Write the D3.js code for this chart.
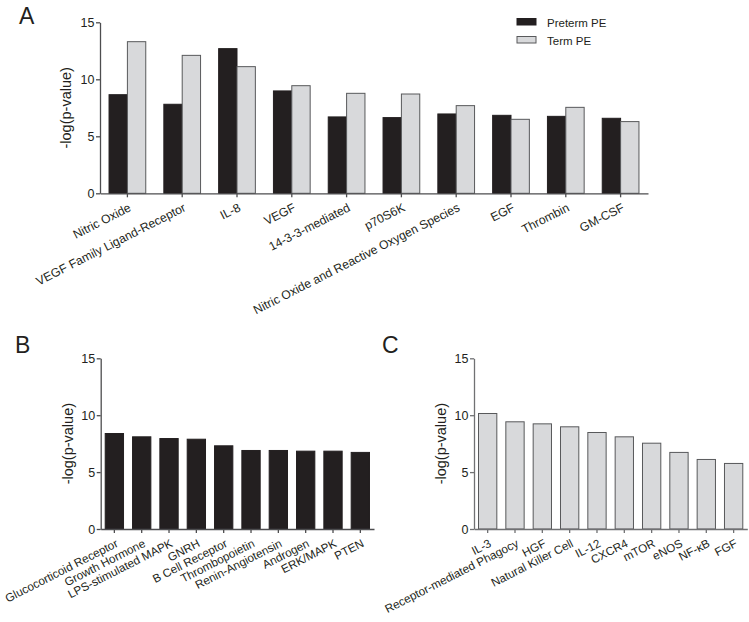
<!DOCTYPE html>
<html><head><meta charset="utf-8">
<script src="https://cdn.jsdelivr.net/npm/d3@7"></script>
<style>
body{margin:0;background:#fff;}
text{font-family:"Liberation Sans",Arial,Helvetica,sans-serif;fill:#231f20;}
</style></head>
<body>
<svg id="chart" width="749" height="622"></svg>
<script>
// Panel A data
const catsA = ["Nitric Oxide","VEGF Family Ligand-Receptor","IL-8","VEGF","14-3-3-mediated","p70S6K","Nitric Oxide and Reactive Oxygen Species","EGF","Thrombin","GM-CSF"];
const seriesA = ["Preterm PE","Term PE"];
const pretermA = [8.65,7.81,12.69,8.98,6.70,6.64,6.96,6.84,6.75,6.58];
const termA = [13.3,12.1,11.11,9.44,8.77,8.71,7.69,6.49,7.54,6.29];
// Panel B data
const catsB = ["Glucocorticoid Receptor","Growth Hormone","LPS-stimulated MAPK","GNRH","B Cell Receptor","Thrombopoietin","Renin-Angiotensin","Androgen","ERK/MAPK","PTEN"];
const valsB = [8.39,8.10,7.95,7.89,7.31,6.90,6.90,6.84,6.84,6.73];
// Panel C data
const catsC = ["IL-3","Receptor-mediated Phagocy","HGF","Natural Killer Cell","IL-12","CXCR4","mTOR","eNOS","NF-\u03baB","FGF"];
const valsC = [10.15,9.42,9.24,8.98,8.48,8.10,7.54,6.73,6.11,5.76];
const yTicks = [0,5,10,15];
const yLabel = "-log(p-value)";

const svg = d3.select("#chart");
const BLACK = "#231f20", GRAY = "#d8d9db", GSTROKE = "#58595b";

function drawAxes(g, y, x, x0, x1, y0, y1, cats, labelX, axColor, labFont) {
  const ya = d3.axisLeft(y).tickValues(yTicks).tickSize(4).tickPadding(1.5).tickSizeOuter(0);
  const gy = g.append("g").attr("transform", `translate(${x0},0)`).call(ya);
  gy.select(".domain").attr("stroke", axColor).attr("stroke-width", 1.3);
  gy.selectAll(".tick line").attr("stroke", axColor).attr("stroke-width", 1.3);
  gy.selectAll(".tick text").attr("font-size", 12.5).attr("fill", BLACK).style("font-family","Liberation Sans, Arial, sans-serif");
  const xa = d3.axisBottom(x).tickSize(4).tickSizeOuter(0).tickFormat("");
  const gx = g.append("g").attr("transform", `translate(0,${y0})`).call(xa);
  gx.select(".domain").attr("stroke", axColor).attr("stroke-width", 1.3);
  gx.selectAll(".tick line").attr("stroke", axColor).attr("stroke-width", 1.3);
  g.append("g").selectAll("text").data(cats).join("text")
    .attr("transform", d => `translate(${x(d) + x.bandwidth()/2 + 4.5},${y0 + 17}) rotate(-27)`)
    .attr("text-anchor", "end")
    .attr("font-size", labFont)
    .text(d => d);
  g.append("text")
    .attr("transform", `translate(${labelX},${(y0 + y1)/2}) rotate(-90)`)
    .attr("text-anchor", "middle")
    .attr("dy", "0.35em")
    .attr("font-size", 14.5)
    .text(yLabel);
}

// ---------- Panel A ----------
{
  const y0 = 193.3, y1 = 22.3, xl = 100, xr = 648;
  const y = d3.scaleLinear().domain([0,15]).range([y0, y1]);
  const x = d3.scaleBand().domain(catsA).range([xl, xr]).paddingInner(0.33).paddingOuter(0.165);
  const xs = d3.scaleBand().domain(seriesA).range([0, x.bandwidth()]);
  const xc = d3.scaleBand().domain(catsA).range([xl, xr]);
  const g = svg.append("g");
  const rows = catsA.map((c,i) => ({c, vals:[{s:seriesA[0], v:pretermA[i]},{s:seriesA[1], v:termA[i]}]}));
  g.selectAll("g.grp").data(rows).join("g")
    .attr("transform", d => `translate(${x(d.c)},0)`)
    .selectAll("rect").data(d => d.vals).join("rect")
      .attr("x", d => xs(d.s)).attr("width", xs.bandwidth())
      .attr("y", d => y(d.v)).attr("height", d => y0 - y(d.v))
      .attr("fill", d => d.s === seriesA[0] ? BLACK : GRAY)
      .attr("stroke", d => d.s === seriesA[0] ? BLACK : GSTROKE)
      .attr("stroke-width", 1);
  drawAxes(g, y, xc, xl, xr, y0, y1, catsA, 66, "#4d4d4f", 12.2);
  svg.append("text").attr("x", 19).attr("y", 23.5).attr("font-size", 23).text("A");
  const lg = svg.append("g");
  seriesA.forEach((s,i) => {
    lg.append("rect").attr("x", 517).attr("y", 18.5 + i*18).attr("width", 19).attr("height", 6.5)
      .attr("fill", i===0 ? BLACK : GRAY).attr("stroke", i===0 ? BLACK : GSTROKE).attr("stroke-width", 1);
    lg.append("text").attr("x", 547).attr("y", 26.5 + i*18).attr("font-size", 11.5).text(s);
  });
}

// ---------- Panels B and C ----------
function single(cats, vals, xl, fill, stroke, letter, letterX, axColor) {
  const y0 = 529, y1 = 358.3, xr = xl + 273.3;
  const y = d3.scaleLinear().domain([0,15]).range([y0, y1]);
  const x = d3.scaleBand().domain(cats).range([xl, xr]).paddingInner(0.33).paddingOuter(0.165);
  const xc = d3.scaleBand().domain(cats).range([xl, xr]);
  const g = svg.append("g");
  g.selectAll("rect").data(cats.map((c,i)=>({c, v:vals[i]}))).join("rect")
    .attr("x", d => x(d.c)).attr("width", x.bandwidth())
    .attr("y", d => y(d.v)).attr("height", d => y0 - y(d.v))
    .attr("fill", fill).attr("stroke", stroke).attr("stroke-width", 1);
  drawAxes(g, y, xc, xl, xr, y0, y1, cats, xl - 33, axColor, 11.7);
  svg.append("text").attr("x", letterX).attr("y", 352.5).attr("font-size", 23).text(letter);
}
single(catsB, valsB, 100.7, BLACK, BLACK, "B", 15, "#4d4d4f");
single(catsC, valsC, 474, GRAY, GSTROKE, "C", 382, "#707173");
</script>
</body></html>
